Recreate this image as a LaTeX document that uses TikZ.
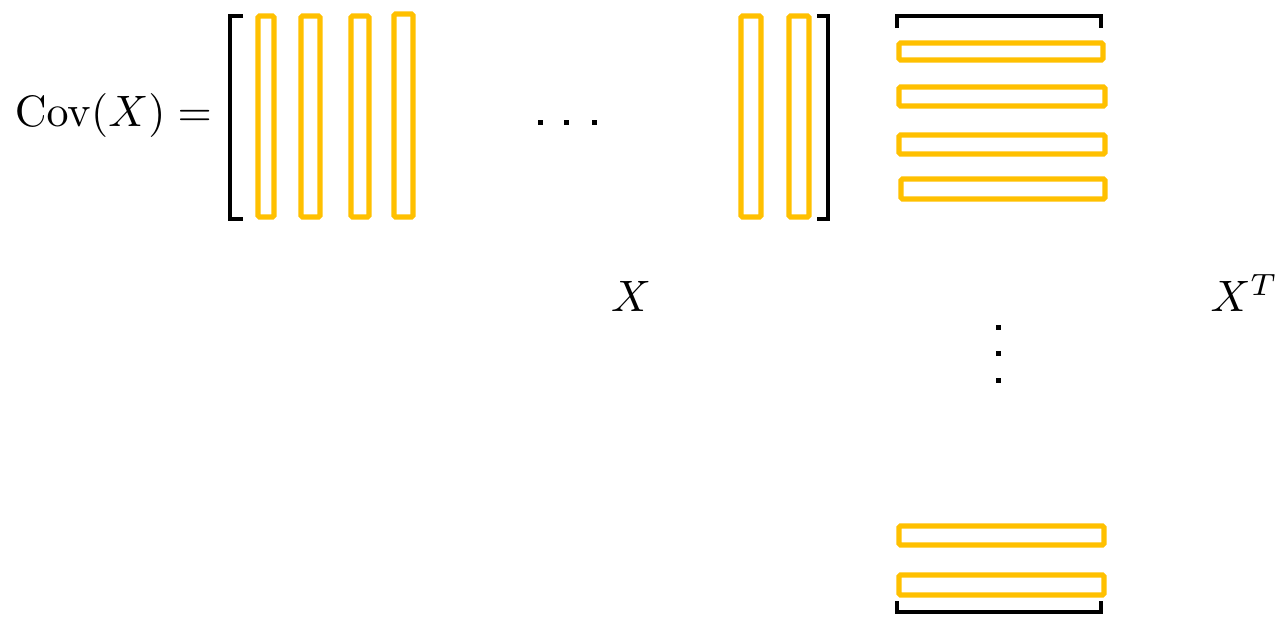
\documentclass[tikz,border=0pt]{standalone}
\definecolor{gold}{HTML}{FFC000}
\begin{document}
\begin{tikzpicture}[x=0.5pt,y=-0.5pt,
  bar/.style={draw=gold,line width=2.7pt,rounded corners=0.8pt},
  brk/.style={draw=black,line width=1.8pt},
  dotsq/.style={fill=black},
  lbl/.style={inner sep=0pt,scale=2.2}]
\useasboundingbox (0,0) rectangle (1280,616);
% label
\node[lbl,anchor=base west] (cov) at (14,126) {$\mathrm{Cov}(X) =$};
% matrix brackets
\draw[brk] (243,16) -- (230,16) -- (230,219) -- (243,219);
\draw[brk] (817,16) -- (828,16) -- (828,219) -- (817,219);
% vertical columns
\draw[bar] (258,16) rectangle (274,217);
\draw[bar] (301,16) rectangle (320,217);
\draw[bar] (351,16) rectangle (369,217);
\draw[bar] (394,14) rectangle (413,217);
\draw[bar] (741,16) rectangle (761,217);
\draw[bar] (789,16) rectangle (809,217);
% horizontal dots
\foreach \x in {540,566,594} \fill[dotsq] (\x-2.5,119.5) rectangle (\x+2.5,124.5);
% X label
\node[lbl,anchor=base] (xl) at (631,311) {$X$};
% top / bottom brackets of X^T
\draw[brk] (897,28) -- (897,16) -- (1101,16) -- (1101,28);
\draw[brk] (897,601) -- (897,612) -- (1101,612) -- (1101,601);
% horizontal rows
\draw[bar] (899,43) rectangle (1103,60);
\draw[bar] (899,87) rectangle (1105,106);
\draw[bar] (899,135) rectangle (1105,154);
\draw[bar] (901,179) rectangle (1105,199);
\draw[bar] (899,526) rectangle (1104,545);
\draw[bar] (899,575) rectangle (1104,595);
% vertical dots
\foreach \y in {327,353,380} \fill[dotsq] (995.5,\y-2.5) rectangle (1000.5,\y+2.5);
% X^T label
\node[lbl,anchor=base east] (xt) at (1279,311) {$X^{T}$};
\end{tikzpicture}
\end{document}
